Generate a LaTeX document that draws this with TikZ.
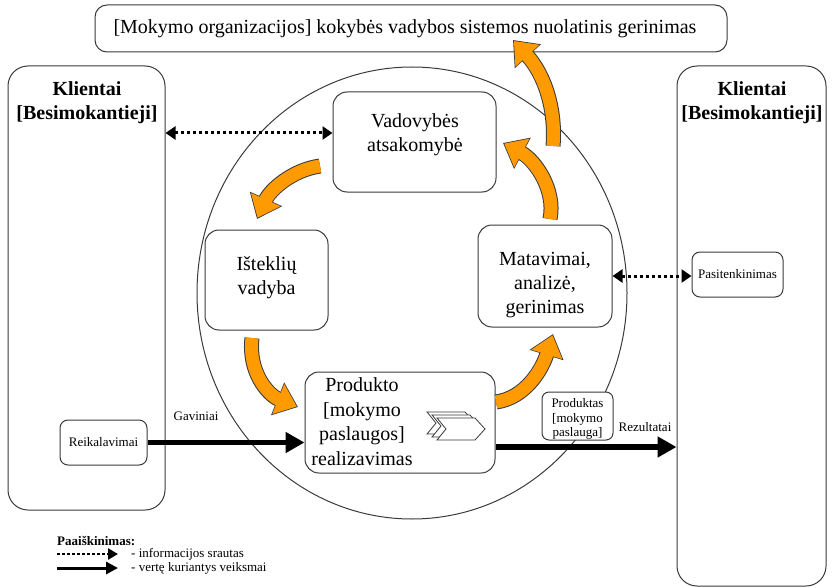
\documentclass[tikz,border=0pt]{standalone}
\usepackage{fontspec}
\setmainfont{Liberation Serif}
\usetikzlibrary{arrows.meta}
\definecolor{org}{HTML}{FF9A00}
\definecolor{edge}{HTML}{3A3A3A}
\begin{document}
\begin{tikzpicture}[x=1pt,y=-1pt,
  box/.style={draw=edge, line width=1pt, fill=white, rounded corners=#1, inner sep=0pt},
  bigtxt/.style={font=\fontsize{20}{24}\selectfont, align=center, inner sep=0pt},
  smalltxt/.style={font=\fontsize{13}{14.5}\selectfont, align=center, inner sep=0pt},
  oout/.style={line width=15pt, draw=edge, -{Triangle[width=34pt,length=22pt]}},
  oin/.style={line width=13pt, draw=org, shorten >=1.3pt, -{Triangle[width=31pt,length=20pt]}},
  infoflow/.style={line width=3pt, dash pattern=on 3pt off 3pt, {Triangle[width=13pt,length=10pt]}-{Triangle[width=13pt,length=10pt]}},
  valueflow/.style={line width=5.5pt, -{Triangle[width=20pt,length=19pt]}},
  chev/.style={draw=edge, line width=0.8pt, fill=white}
]
\useasboundingbox (0,0) rectangle (834,588);

% circle
\draw[edge, line width=1pt] (412,293) ellipse [x radius=215, y radius=226];

% big boxes
\node[box=12pt, minimum width=632pt, minimum height=47pt, anchor=center] (top) at (411,28.5) {};
\node[bigtxt] (toptxt) at (405,28.5) {[Mokymo organizacijos] kokybės vadybos sistemos nuolatinis gerinimas};

\node[box=20pt, minimum width=157pt, minimum height=444pt] (left) at (86.5,288) {};
\node[bigtxt, font=\fontsize{20}{24}\selectfont\bfseries] (lefttxt) at (87,103) {Klientai\\\relax [Besimokantieji]};

\node[box=20pt, minimum width=149pt, minimum height=520pt] (right) at (751.5,326) {};
\node[bigtxt, font=\fontsize{20}{24}\selectfont\bfseries] (righttxt) at (752,103) {Klientai\\\relax [Besimokantieji]};

% process boxes
\node[box=14pt, minimum width=163pt, minimum height=100pt] (vad) at (414.5,142) {};
\node[bigtxt] (vadtxt) at (415,135) {Vadovybės\\atsakomybė};

\node[box=14pt, minimum width=123pt, minimum height=100pt] (ist) at (266.5,280) {};
\node[bigtxt] (isttxt) at (266.5,278) {Išteklių\\vadyba};

\node[box=14pt, minimum width=134pt, minimum height=102pt] (mat) at (545,276) {};
\node[bigtxt] (mattxt) at (545,285) {Matavimai,\\analizė,\\gerinimas};

\node[box=14pt, minimum width=190pt, minimum height=101pt] (prod) at (400,422.5) {};
\node[bigtxt, font=\fontsize{20}{24.5}\selectfont] (prodtxt) at (362,421.5) {Produkto\\\relax [mokymo\\paslaugos]\\realizavimas};

% chevron icon
\foreach \dx/\dy/\nm in {-10/-6/c1, -5/-3/c2, 0/0/c3}{
  \draw[chev] ({437+\dx},{418+\dy}) -- ({475+\dx},{418+\dy}) -- ({485+\dx},{429+\dy}) -- ({475+\dx},{440+\dy}) -- ({437+\dx},{440+\dy}) -- ({446+\dx},{429+\dy}) -- cycle;
}

% small boxes
\node[box=8pt, minimum width=87pt, minimum height=45pt, smalltxt] (reik) at (103.5,442.5) {Reikalavimai};
\node[box=8pt, minimum width=91pt, minimum height=45pt, smalltxt] (pas) at (737.5,274.5) {Pasitenkinimas};
\node[box=7pt, minimum width=71pt, minimum height=48pt] (pr) at (577.5,416) {};
\node[smalltxt] (prtxt) at (577.5,419) {Produktas\\\relax [mokymo\\paslauga]};

% labels
\node[smalltxt] (gav) at (196,416) {Gaviniai};
\node[smalltxt] (rez) at (645,427) {Rezultatai};

% value flows
\draw[valueflow] (reik.east) -- (reik.east -| prod.west);
\coordinate (pout) at ([yshift=-24.5pt]prod.east);
\draw[valueflow] (pout) -- (pout -| right.west);

% information flows
\coordinate (vd) at ([yshift=9pt]vad.west);
\draw[infoflow] (vd -| left.east) -- (vd);
\draw[infoflow] (mat.east) -- (mat.east -| pas.west);

% orange cycle arrows
\coordinate (a1s) at (553,146); \coordinate (a1e) at (513,40);
\coordinate (a2s) at (550,219); \coordinate (a2e) at (503,143);
\coordinate (a3s) at (320,166); \coordinate (a3e) at (257,219);
\coordinate (a4s) at (252,338); \coordinate (a4e) at (298,407);
\coordinate (a5s) at (496,402); \coordinate (a5e) at (553,334);
\foreach \st in {oout,oin}{
  \draw[\st] (a1s) .. controls (556,110) and (545,75) .. (a1e);
  \draw[\st] (a2s) .. controls (556,190) and (535,160) .. (a2e);
  \draw[\st] (a3s) .. controls (292,170) and (270,190) .. (a3e);
  \draw[\st] (a4s) .. controls (248,372) and (268,395) .. (a4e);
  \draw[\st] (a5s) .. controls (525,398) and (542,370) .. (a5e);
}

% legend
\node[smalltxt, font=\fontsize{13}{14.5}\selectfont\bfseries, anchor=west] (leg) at (57,541) {Paaiškinimas:};
\coordinate (l1a) at (57,554); \coordinate (l1b) at (118,554);
\coordinate (l2a) at (57,568); \coordinate (l2b) at (118,568);
\draw[line width=2.5pt, dash pattern=on 2.5pt off 2.5pt, -{Triangle[width=11pt,length=10pt]}] (l1a) -- (l1b);
\draw[line width=3pt, -{Triangle[width=12pt,length=12pt]}] (l2a) -- (l2b);
\node[smalltxt, anchor=west] (leg1) at (131,554) {- informacijos srautas};
\node[smalltxt, anchor=west] (leg2) at (131,568) {- vertę kuriantys veiksmai};
\end{tikzpicture}
\end{document}
